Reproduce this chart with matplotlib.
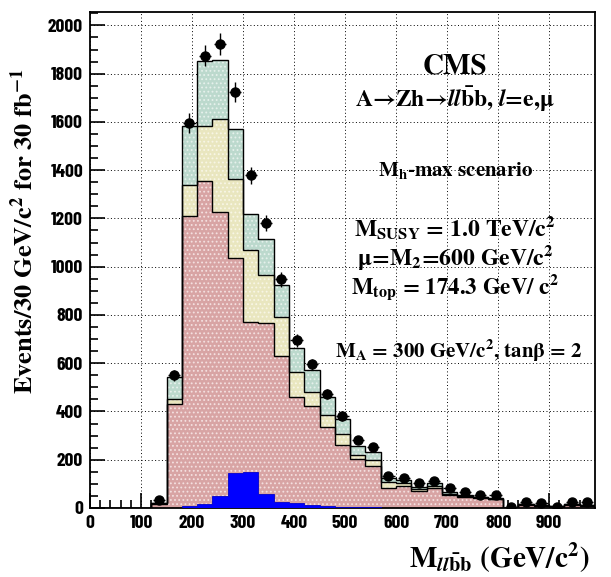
import numpy as np
import matplotlib
matplotlib.use("Agg")
import matplotlib.pyplot as plt
from matplotlib import font_manager
from matplotlib.ticker import MultipleLocator

plt.rcParams['mathtext.fontset'] = 'custom'
plt.rcParams['mathtext.rm'] = 'STIXGeneral:bold'
plt.rcParams['mathtext.it'] = 'STIXGeneral:bold:italic'
plt.rcParams['mathtext.bf'] = 'STIXGeneral:bold'
plt.rcParams['hatch.linewidth'] = 0.8

# 33 bins of 30 GeV/c^2 from 0 to 990
edges = np.arange(0, 991, 30)

# background components (events per bin), bottom to top of the stack
bkg_red = [0, 0, 0, 0, 18, 430, 1210, 1356, 1228, 1035, 772, 766, 629, 461, 422, 337, 261,
           205, 174, 81, 91, 70, 81, 54, 47, 42, 36, 0, 14, 10, 6, 14, 10]
bkg_yellow = [0, 0, 0, 0, 2, 21, 130, 225, 385, 327, 296, 198, 163, 103, 59, 48, 45,
              14, 25, 28, 13, 8, 11, 6, 3, 3, 2, 0, 2, 1, 1, 1, 1]
bkg_green = [0, 0, 0, 0, 2, 92, 241, 273, 245, 209, 152, 152, 131, 101, 90, 73, 62,
             39, 34, 14, 12, 10, 10, 8, 4, 2, 2, 0, 1, 1, 1, 2, 1]
# signal A->Zh
signal = [0, 0, 0, 0, 0, 0, 8, 17, 50, 146, 150, 58, 23, 19, 12, 8, 5,
          4, 3, 0, 0, 0, 0, 0, 0, 0, 0, 0, 0, 0, 0, 0, 0]
# pseudo-data, from bin 4 (120-150) onwards
data = [33, 550, 1595, 1875, 1923, 1723, 1378, 1181, 947, 695, 595, 473, 381,
        281, 254, 132, 125, 102, 112, 81, 68, 54, 54, 3, 26, 19, 6, 26, 26]

red = np.array(bkg_red, float)
yel = red + np.array(bkg_yellow, float)
tot = yel + np.array(bkg_green, float)
sig = np.array(signal, float)

fig = plt.figure(figsize=(6.11, 5.77), dpi=100)
ax = fig.add_axes([0.1473, 0.1196, 0.8265, 0.8594])

ax.stairs(red, edges, baseline=0, fill=True, facecolor='#d8a4a4', edgecolor='#f4e0e0',
          hatch='....', linewidth=0, zorder=2)
ax.stairs(yel, edges, baseline=red, fill=True, facecolor='#e9e6bf', edgecolor='#f8f6e6',
          hatch='....', linewidth=0, zorder=2)
ax.stairs(tot, edges, baseline=yel, fill=True, facecolor='#bcd9cd', edgecolor='#e6f1ec',
          hatch='....', linewidth=0, zorder=2)
for top in (red, yel, tot):
    ax.stairs(top, edges, color='black', linewidth=1.0, zorder=3)
ax.stairs(sig, edges, baseline=0, fill=True, facecolor='#0000ff', edgecolor='#0000cc',
          linewidth=0.6, zorder=4)

centers = (edges[:-1] + edges[1:]) / 2
d = np.array(data, float)
ax.errorbar(centers[4:], d, yerr=np.sqrt(d), xerr=12, fmt='o', color='black',
            markersize=6.5, elinewidth=1.0, capsize=0, zorder=5, clip_on=True)

ax.set_xlim(0, 990)
ax.set_ylim(0, 2055)
ax.xaxis.set_major_locator(MultipleLocator(100))
ax.xaxis.set_minor_locator(MultipleLocator(20))
ax.yaxis.set_major_locator(MultipleLocator(200))
ax.yaxis.set_minor_locator(MultipleLocator(50))
ax.tick_params(which='both', direction='in', top=False, right=False, width=1.2)
ax.tick_params(which='major', length=11)
ax.tick_params(which='minor', length=6)
ax.grid(True, which='major', linestyle=(0, (1, 2.5)), color='black', linewidth=0.7, zorder=0)
ax.set_axisbelow(True)
for s in ax.spines.values():
    s.set_linewidth(1.3)

tick_fp = font_manager.FontProperties(family=['Barlow Condensed', 'Liberation Sans'],
                                      weight='bold', size=14)
for lab in ax.get_xticklabels() + ax.get_yticklabels():
    lab.set_fontproperties(tick_fp)
ax.tick_params(axis='y', pad=5)
ax.tick_params(axis='x', pad=5)

serif = dict(family='STIXGeneral', weight='bold', ha='center', va='baseline', zorder=6)
ax.text(716, 1800, 'CMS', fontsize=21, **serif)
ax.text(716, 1660, r'A→Zh→$\mathit{ll}\bar{\mathrm{b}}\mathrm{b}$, $\mathit{l}$=e,μ', fontsize=17, **serif)
ax.text(716, 1374, r'M$_\mathrm{h}$-max scenario', fontsize=15, **serif)
ax.text(716, 1126, r'M$_\mathrm{SUSY}$ = 1.0 TeV/c$^2$', fontsize=17, **serif)
ax.text(716, 1006, r'μ=M$_2$=600 GeV/c$^2$', fontsize=17, **serif)
ax.text(716, 890, r'M$_\mathrm{top}$ = 174.3 GeV/ c$^2$', fontsize=16.5, **serif)
ax.text(724, 621, r'M$_\mathrm{A}$ = 300 GeV/c$^2$, tanβ = 2', fontsize=15, **serif)

ax.set_ylabel(r'Events/30 GeV/c$^2$ for 30 fb$^{-1}$', family='STIXGeneral',
              weight='bold', fontsize=19)
ax.yaxis.set_label_coords(-0.103, 0.558)
ax.set_xlabel(r'M$_{\mathit{ll}\bar{\mathrm{b}}\mathrm{b}}$ (GeV/c$^2$)', family='STIXGeneral',
              weight='bold', fontsize=21)
ax.xaxis.set_label_coords(0.99, -0.066)
ax.xaxis.label.set_ha('right')

fig.savefig('out.png', dpi=100)
